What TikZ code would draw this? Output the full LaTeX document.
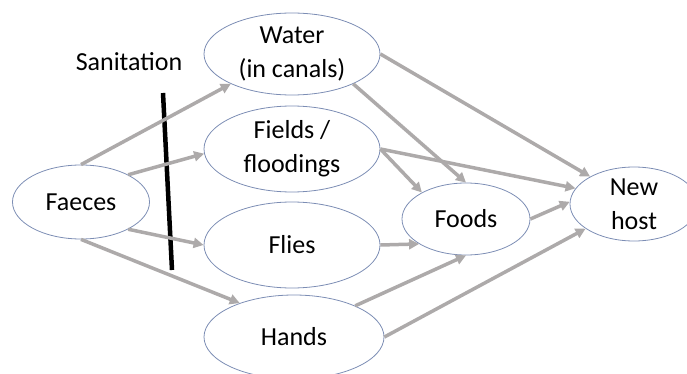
\documentclass[tikz,border=0pt]{standalone}
\usepackage{fontspec}
\setmainfont{Carlito}
\usetikzlibrary{arrows.meta,shapes.geometric}
\definecolor{routegray}{HTML}{ADAAAA}
\definecolor{rimblue}{HTML}{7C8DB4}
\tikzset{
  stage/.style={ellipse,draw=rimblue,line width=0.8pt,inner sep=-4pt,align=center,
    font=\fontsize{26}{34}\selectfont},
  route/.style={-{Triangle[length=10pt,width=10pt]},draw=routegray,line width=3.5pt},
}

\begin{document}
\begin{tikzpicture}[x=1pt,y=-1pt]
\useasboundingbox (0,0) rectangle (687,374);

% stages of the pathway
\node[stage,minimum width=137,minimum height=74] (faeces) at (81,202) {Faeces};
\node[stage,minimum width=176,minimum height=82] (water) at (292,54) {Water\\(in canals)};
\node[stage,minimum width=176,minimum height=86] (fields) at (292,149) {Fields /\\floodings};
\node[stage,minimum width=176,minimum height=86] (flies) at (292,245) {Flies};
\node[stage,minimum width=180,minimum height=84] (hands) at (294,337) {Hands};
\node[stage,minimum width=128,minimum height=72] (foods) at (466,219) {Foods};
\node[stage,minimum width=128,minimum height=74] (newhost) at (634,204) {New\\host};

% sanitation barrier
\node[font=\fontsize{26}{30}\selectfont] (sanlabel) at (129,62) {Sanitation};
\coordinate (bartop) at (163,93);
\coordinate (barbottom) at (172,270);
\draw[line width=4.5pt] (bartop) -- (barbottom);

% routes
\draw[route] (faeces.north) -- (water.206);
\draw[route] (faeces.30) -- (fields.183);
\draw[route] (faeces.-30) -- (flies.west);
\draw[route] (faeces.south) -- (hands.148);
\draw[route] (water.-26) -- (foods.north);
\draw[route] (water.east) -- (newhost.148);
\draw[route] (fields.east) -- (foods.149);
\draw[route] (fields.east) -- (newhost.165);
\draw[route] (flies.east) -- (foods.208);
\draw[route] (hands.27) -- (foods.south);
\draw[route] (hands.east) -- (newhost.207);
\draw[route] (foods.east) -- (newhost.178);
\end{tikzpicture}
\end{document}
